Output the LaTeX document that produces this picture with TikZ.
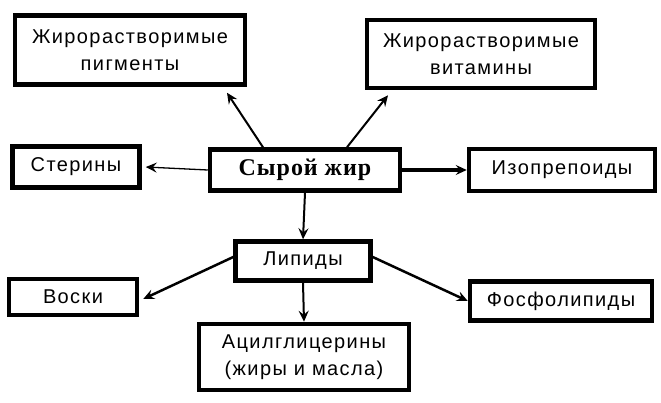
\documentclass[tikz,border=0pt]{standalone}
\usepackage{fontspec}
\setmainfont{Liberation Sans}[LetterSpace=7]
\newfontfamily\boldserif{Liberation Serif}[LetterSpace=4]
\usetikzlibrary{arrows.meta,calc}
\begin{document}
\begin{tikzpicture}[x=1pt,y=-1pt,
  box/.style={draw=black,line width=4.5pt,align=center,inner sep=0pt,
    font=\fontsize{20}{27}\selectfont},
  arr/.style={line width=2pt,-{Stealth[length=11pt,width=10pt,inset=4pt]}},
]
\useasboundingbox[fill=white] (0,0) rectangle (661,403);
\node[box,minimum width=230,minimum height=69] (pig) at (130,50) {Жирорастворимые\\пигменты};
\node[box,minimum width=228,minimum height=68] (vit) at (481,54) {Жирорастворимые\\витамины};
\node[box,minimum width=127,minimum height=41] (ster) at (76,167) {Стерины};
\node[box,minimum width=190,minimum height=41,font=\boldserif\bfseries\fontsize{24}{27}\selectfont] (syr) at (305,170) {Сырой жир};
\node[box,minimum width=186,minimum height=42] (izo) at (562,170) {Изопрепоиды};
\node[box,minimum width=135,minimum height=39] (lip) at (303,261) {Липиды};
\node[box,minimum width=128,minimum height=36] (vosk) at (73,297) {Воски};
\node[box,minimum width=182,minimum height=39] (fos) at (561,301) {Фосфолипиды};
\node[box,minimum width=210,minimum height=66] (acyl) at (304,357) {Ацилглицерины\\(жиры и масла)};

\draw[arr] ([xshift=-42pt]syr.north) -- ([xshift=97pt,yshift=-6pt]pig.south);
\draw[arr] ([xshift=42pt]syr.north) -- ([xshift=-93pt,yshift=-5pt]vit.south);
\draw[arr,line width=1.3pt] (syr.west) -- ([xshift=4pt]ster.east);
\draw[arr,line width=3.5pt] (syr.east) -- (izo.west);
\draw[arr] (syr.south) -- (lip.north);
\draw[arr,line width=2.5pt] ([yshift=4pt]lip.west) -- ([xshift=4pt,yshift=-2pt]vosk.east);
\draw[arr,line width=2.5pt] ([yshift=4pt]lip.east) -- (fos.west);
\draw[arr] (lip.south) -- (acyl.north);
\end{tikzpicture}
\end{document}
